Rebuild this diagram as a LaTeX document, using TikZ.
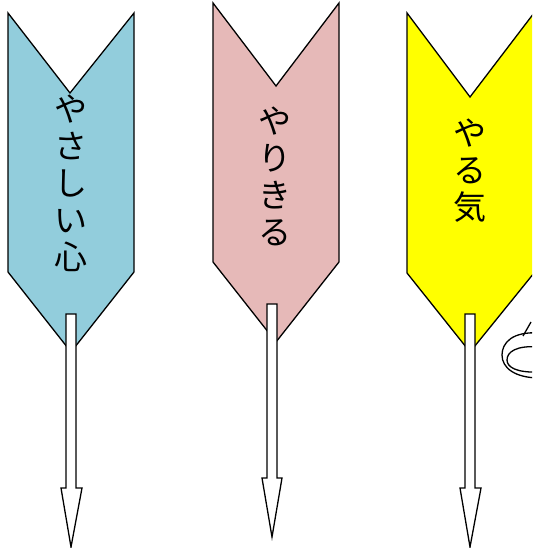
\documentclass[tikz,border=0pt]{standalone}
\usepackage{fontspec}
\newfontfamily\jpfont{Noto Sans CJK JP}
\definecolor{bannerblue}{RGB}{146,205,220}
\definecolor{bannerpink}{RGB}{230,185,184}
\definecolor{banneryellow}{RGB}{255,255,0}
\tikzset{
  banner/.style={draw=black, line width=1.3pt, line join=miter},
  blockarrow/.style={draw=black, fill=white, line width=1.3pt, line join=miter},
  vtext/.style={font=\jpfont\fontsize{33}{37}\selectfont, align=center, inner sep=0pt},
  loopline/.style={draw=black, line width=1.3pt}
}
\begin{document}
\begin{tikzpicture}[x=1pt,y=-1pt]
\useasboundingbox (0,0) rectangle (532,548);
\clip (0,0) rectangle (532,548);
% banners
\path[banner, fill=bannerblue] (8,13) -- (70,93) -- (134,13) -- (134,272) -- (71,352) -- (8,272) -- cycle;
\path[banner, fill=bannerpink] (213,3) -- (276,86) -- (339,3) -- (339,262) -- (276,342) -- (213,262) -- cycle;
\path[banner, fill=banneryellow] (407,13) -- (470,97) -- (534,13) -- (534,273) -- (470,352) -- (407,273) -- cycle;
% texts
\node[vtext] (t1) at (71,183) {や\\さ\\し\\い\\心};
\node[vtext] (t2) at (275,176) {や\\り\\き\\る};
\node[vtext] (t3) at (470,171) {や\\る\\気};
% block arrows
\path[blockarrow] (66,314) -- (76,314) -- (76,488) -- (82,488) -- (71,547) -- (61,488) -- (66,488) -- cycle;
\path[blockarrow] (267,304) -- (277,304) -- (277,478) -- (282,478) -- (272,537) -- (262,478) -- (267,478) -- cycle;
\path[blockarrow] (465,314) -- (475,314) -- (475,488) -- (481,488) -- (470,547) -- (460,488) -- (465,488) -- cycle;
% partial loop shape at right edge
\draw[loopline] (540,333) .. controls (512,331) and (502,343) .. (502,355) .. controls (502,368) and (515,378) .. (540,378);
\draw[loopline] (540,347) .. controls (516,345) and (507,352) .. (507,360) .. controls (507,367) and (516,373) .. (540,372);
\draw[loopline] (523,336) -- (531,322);
\end{tikzpicture}
\end{document}
